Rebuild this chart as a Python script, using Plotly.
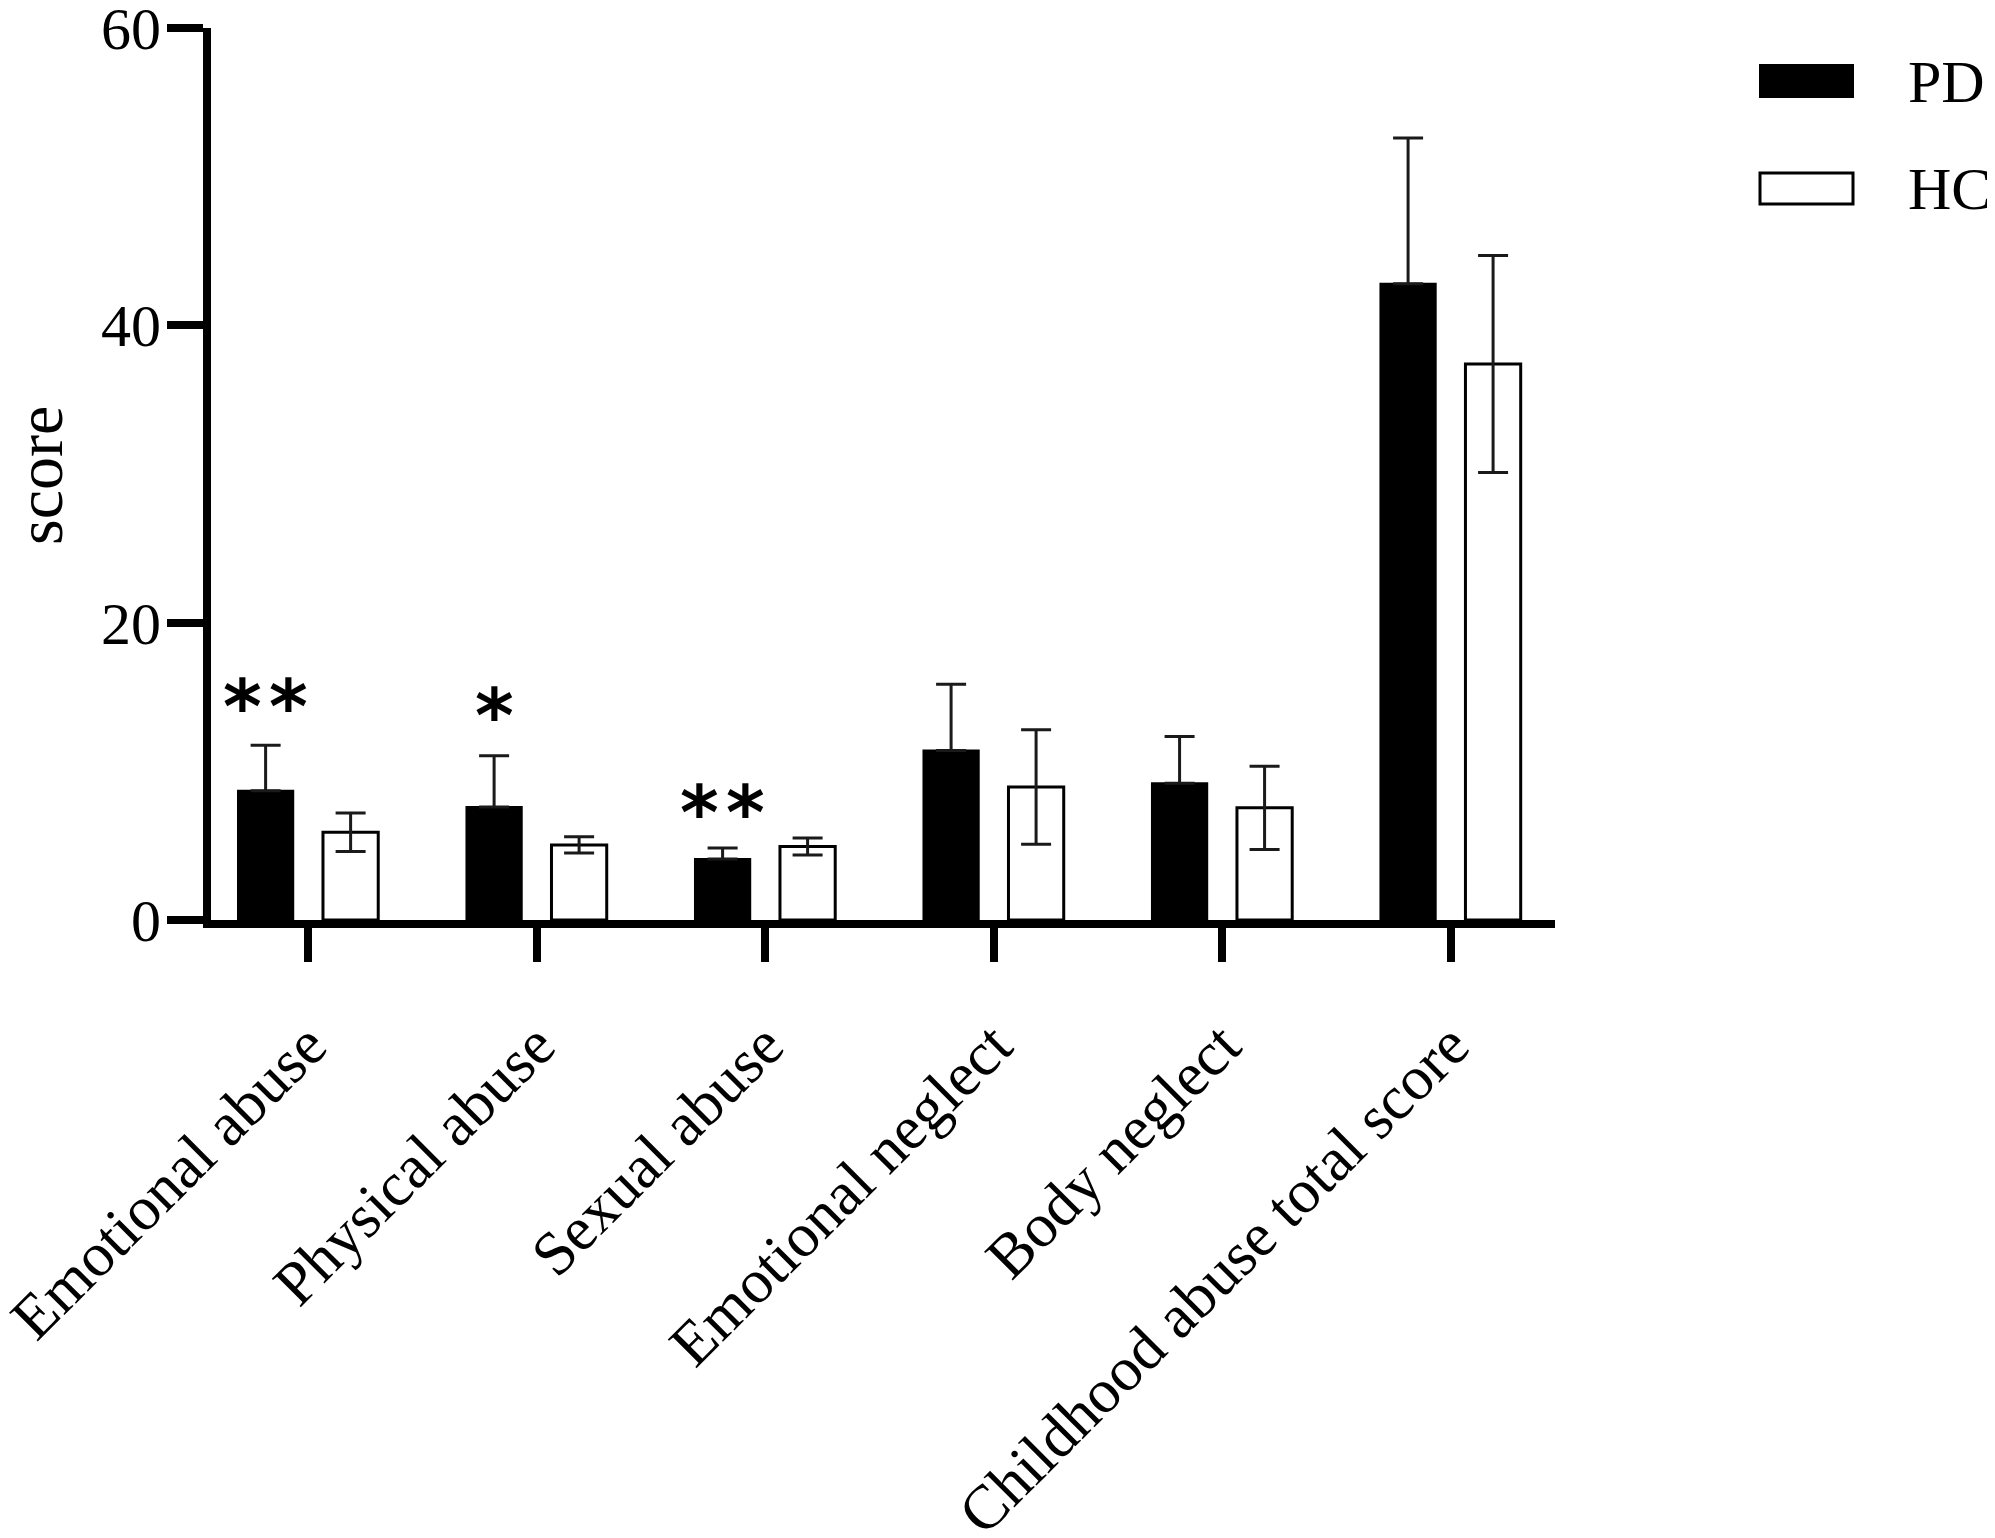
import plotly.graph_objects as go

# ---- data ----
categories = ["Emotional abuse", "Physical abuse", "Sexual abuse",
              "Emotional neglect", "Body neglect", "Childhood abuse total score"]
pd_mean = [8.7, 7.6, 4.1, 11.4, 9.2, 42.8]
pd_sd = [3.05, 3.45, 0.75, 4.45, 3.15, 9.8]
hc_mean = [5.9, 5.05, 4.95, 8.95, 7.55, 37.4]
hc_sd = [1.3, 0.55, 0.57, 3.85, 2.8, 7.3]
sig_labels = ["*\u200a*", "*", "*\u200a*"]
sig_categories = ["Emotional abuse", "Physical abuse", "Sexual abuse"]
sig_y = [15.3, 14.65, 8.16]
y_ticks = [0, 20, 40, 60]
y_title = "score"

# ---- geometry (pixels, compensating the 8px page margin) ----
W, H = 1995, 1538
OFF = 8
L, R, T, B = 211 - OFF, 1555 - OFF, 28 - OFF, 920 - OFF
SERIF = "Liberation Serif, Times New Roman, serif"


def pxx(px):
    return (px - OFF - L) / (R - L)


def pxy(py):
    return (B - (py - OFF)) / (B - T)


fig = go.Figure()
fig.add_trace(go.Bar(
    name="PD", x=categories, y=pd_mean,
    marker=dict(color="black", line=dict(color="black", width=2)),
    error_y=dict(type="data", array=pd_sd, symmetric=False,
                 arrayminus=[0] * len(pd_sd), color="#1a1a1a",
                 thickness=3, width=15),
    showlegend=False,
))
fig.add_trace(go.Bar(
    name="HC", x=categories, y=hc_mean,
    marker=dict(color="white", line=dict(color="black", width=3)),
    error_y=dict(type="data", array=hc_sd, color="#1a1a1a",
                 thickness=3, width=15),
    showlegend=False,
))

cat_px = (R - L) / 5.882
bargap = 0.256
pd_shift = -(1 - bargap) * cat_px / 4

for lab, cat, yv in zip(sig_labels, sig_categories, sig_y):
    fig.add_annotation(x=cat, y=yv, xref="x", yref="y", text=lab,
                       showarrow=False, xshift=pd_shift, yshift=-14,
                       font=dict(family="DejaVu Sans", size=74, color="black",
                                 weight="bold"),
                       xanchor="center", yanchor="middle")

# y-axis title
fig.add_annotation(x=pxx(39), y=pxy(476), xref="paper", yref="paper",
                   text=y_title, textangle=-90, showarrow=False,
                   xanchor="center", yanchor="middle",
                   font=dict(family=SERIF, size=66, color="black"))

# legend drawn manually
fig.add_shape(type="rect", xref="paper", yref="paper",
              x0=pxx(1760), x1=pxx(1853), y0=pxy(97), y1=pxy(65),
              fillcolor="black", line=dict(color="black", width=2))
fig.add_shape(type="rect", xref="paper", yref="paper",
              x0=pxx(1760), x1=pxx(1853), y0=pxy(204), y1=pxy(173),
              fillcolor="white", line=dict(color="black", width=3))
fig.add_annotation(x=pxx(1906), y=pxy(82), xref="paper", yref="paper",
                   text="PD", showarrow=False, xanchor="left", yanchor="middle",
                   font=dict(family=SERIF, size=60, color="black"))
fig.add_annotation(x=pxx(1906), y=pxy(189), xref="paper", yref="paper",
                   text="HC", showarrow=False, xanchor="left", yanchor="middle",
                   font=dict(family=SERIF, size=60, color="black"))

fig.update_layout(
    width=W, height=H,
    margin=dict(l=L, r=W - R, t=T, b=H - B, pad=0, autoexpand=False),
    paper_bgcolor="white", plot_bgcolor="white",
    barmode="group", bargap=bargap, bargroupgap=0.35,
    font=dict(family=SERIF, color="black"),
)
fig.update_xaxes(
    range=[-0.425, 5.457], showgrid=False, zeroline=False, automargin=False,
    showline=True, linecolor="black", linewidth=8,
    ticks="outside", ticklen=34, tickwidth=8, tickcolor="black",
    tickangle=-45, ticklabelstandoff=22,
    tickfont=dict(family=SERIF, size=62, color="black"),
)
fig.update_yaxes(
    range=[0, 60], tickvals=y_ticks, showgrid=False, zeroline=False,
    automargin=False, ticklabeloverflow="allow", ticklabelstandoff=-6,
    showline=True, linecolor="black", linewidth=8,
    ticks="outside", ticklen=36, tickwidth=8, tickcolor="black",
    tickfont=dict(family=SERIF, size=60, color="black"),
)

fig.write_html("out.html")
